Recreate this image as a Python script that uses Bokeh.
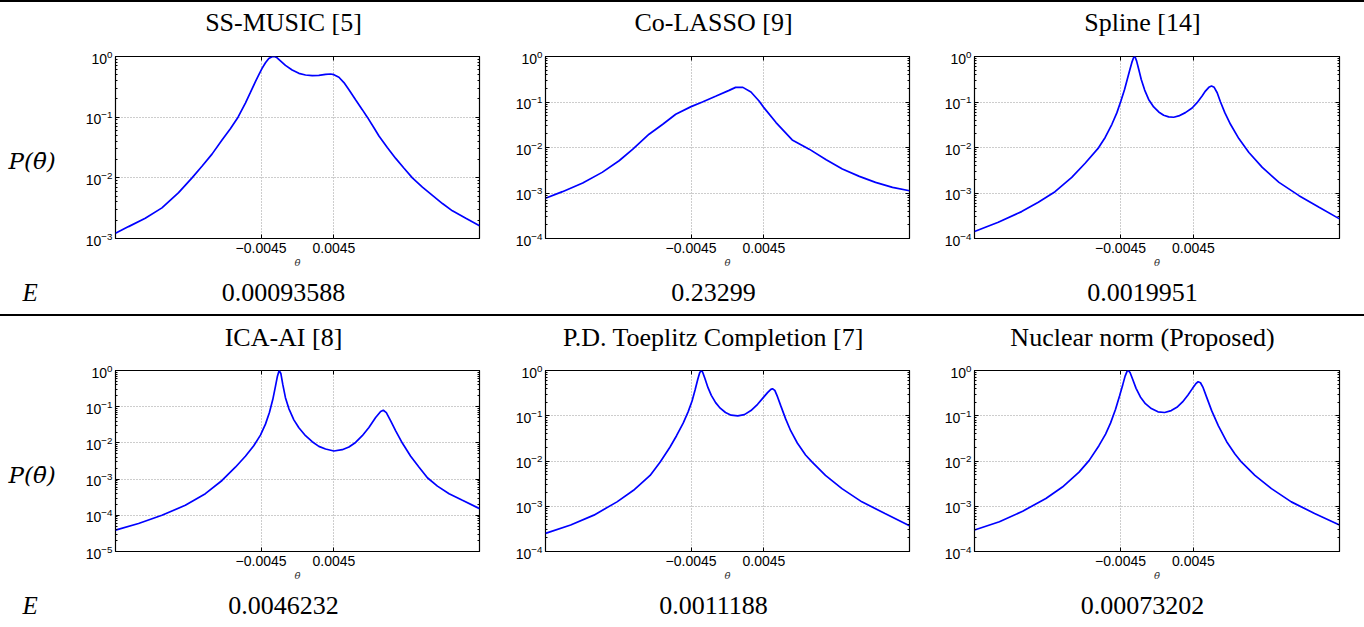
from bokeh.plotting import figure
from bokeh.models import (Range1d, FixedTicker, LogTicker, LogAxis, LinearAxis,
                          Label, Div)
from bokeh.layouts import column, row
from bokeh.embed import file_html
from bokeh.resources import INLINE

# ---------------- data ----------------
titles = ["SS-MUSIC [5]", "Co-LASSO [9]", "Spline [14]",
          "ICA-AI [8]", "P.D. Toeplitz Completion [7]", "Nuclear norm (Proposed)"]
errors = ["0.00093588", "0.23299", "0.0019951",
          "0.0046232", "0.0011188", "0.00073202"]
y_lows = [1e-3, 1e-4, 1e-4, 1e-5, 1e-4, 1e-4]
x_ticks = [-0.0045, 0.0045]
x_tick_labels = ["\u22120.0045", "0.0045"]
theta_lim = [-0.0225, 0.0225]
row_label = "P(\u03b8\u0304)"
err_label = "E"
x_label = "\u03b8\u0304"

ss_music_theta = [-0.0225, -0.02089, -0.01882, -0.01676, -0.0147, -0.01304, -0.01181, -0.01057,
                  -0.00933, -0.0083, -0.00735, -0.00644, -0.00582, -0.0052, -0.00479, -0.00438,
                  -0.00396, -0.00355, -0.00314, -0.00285, -0.00252, -0.00211, -0.00149, -0.00066,
                  0.00017, 0.00099, 0.00182, 0.00264, 0.00347, 0.00409, 0.0045, 0.00512,
                  0.00574, 0.00636, 0.00718, 0.00801, 0.00863, 0.00945, 0.01007, 0.0111,
                  0.01214, 0.01317, 0.0142, 0.01544, 0.01668, 0.01792, 0.01915, 0.02081, 0.0225]
ss_music_p = [0.00122, 0.00157, 0.00215, 0.0032, 0.00569, 0.01, 0.0155, 0.0246,
              0.0422, 0.0645, 0.1, 0.171, 0.256, 0.386, 0.496, 0.637,
              0.789, 0.927, 0.99, 1.0, 0.951, 0.85, 0.713, 0.598,
              0.528, 0.496, 0.484, 0.49, 0.509, 0.515, 0.502, 0.455,
              0.372, 0.283, 0.194, 0.133, 0.1, 0.067, 0.049, 0.0316,
              0.0209, 0.0144, 0.01, 0.00705, 0.00515, 0.00377, 0.00286, 0.00215, 0.00163]

co_lasso_theta = [-0.0225, -0.0204, -0.0179, -0.0155, -0.0134, -0.0117, -0.0097, -0.0080,
                  -0.0064, -0.0045, -0.0031, -0.0014, 0.0002, 0.0010, 0.0019, 0.0029,
                  0.0039, 0.0045, 0.0060, 0.0080, 0.0101, 0.0122, 0.0142, 0.0163,
                  0.0183, 0.0204, 0.0225]
co_lasso_p = [7.64e-4, 1.07e-3, 1.66e-3, 2.84e-3, 5.11e-3, 9.2e-3, 0.0196, 0.0324,
              0.0537, 0.0791, 0.100, 0.135, 0.180, 0.2095, 0.2095, 0.1656,
              0.105, 0.0752, 0.0353, 0.0147, 0.0092, 0.0054, 0.00336, 0.00232,
              0.00171, 0.00133, 0.00112]

spline_theta = [-0.0225, -0.01957, -0.01669, -0.01463, -0.01257, -0.01051, -0.00886, -0.00721,
                -0.00639, -0.00556, -0.00494, -0.00445, -0.004, -0.00367, -0.00334, -0.00309,
                -0.00288, -0.00272, -0.00251, -0.00227, -0.00194, -0.00152, -0.00103, -0.00041,
                0.00021, 0.00082, 0.00144, 0.00206, 0.00268, 0.0035, 0.00433, 0.00494,
                0.00556, 0.00597, 0.00639, 0.00672, 0.00705, 0.00742, 0.00783, 0.00836,
                0.00906, 0.01009, 0.01133, 0.01298, 0.01504, 0.01751, 0.01998, 0.0225]
spline_p = [1.42e-4, 2.28e-4, 3.9e-4, 6.25e-4, 1.07e-3, 2.2e-3, 4.5e-3, 9.84e-3,
            0.0166, 0.0324, 0.0584, 0.105, 0.189, 0.313, 0.519, 0.751,
            0.95, 1.0, 0.79, 0.537, 0.313, 0.183, 0.114, 0.0778,
            0.0604, 0.0511, 0.047, 0.0462, 0.0494, 0.0584, 0.0739, 0.0967,
            0.135, 0.174, 0.21, 0.224, 0.21, 0.16, 0.1, 0.0584,
            0.0324, 0.0157, 7.78e-3, 3.65e-3, 1.71e-3, 8.74e-4, 4.86e-4, 2.7e-4]

ica_ai_theta = [-0.0225, -0.01965, -0.01676, -0.01387, -0.01139, -0.00933, -0.00768, -0.00644,
                -0.00541, -0.00458, -0.00396, -0.00347, -0.00305, -0.00272, -0.00248, -0.00227,
                -0.00206, -0.00182, -0.00149, -0.00107, -0.00045, 0.00017, 0.00099, 0.00182,
                0.00264, 0.00347, 0.0045, 0.00553, 0.00636, 0.00718, 0.00801, 0.00883,
                0.00966, 0.01028, 0.01061, 0.01098, 0.01152, 0.01214, 0.01296, 0.01399,
                0.01503, 0.01606, 0.0173, 0.01874, 0.02039, 0.0225]
ica_ai_p = [3.89e-5, 5.93e-5, 1.0e-4, 1.89e-4, 3.95e-4, 9.17e-4, 2.13e-3, 4.27e-3,
            8.38e-3, 0.0164, 0.033, 0.0689, 0.16, 0.372, 0.699, 1.0,
            0.828, 0.413, 0.178, 0.0887, 0.0433, 0.0261, 0.0158, 0.0108,
            8.03e-3, 6.79e-3, 5.98e-3, 6.5e-3, 7.7e-3, 0.0103, 0.0158, 0.0267,
            0.0502, 0.0734, 0.0798, 0.0689, 0.0407, 0.0216, 9.91e-3, 4.27e-3,
            2.13e-3, 1.09e-3, 6.41e-4, 3.95e-4, 2.59e-4, 1.53e-4]

toeplitz_theta = [-0.0225, -0.01939, -0.01652, -0.01366, -0.01162, -0.00957, -0.00834, -0.00712,
                  -0.0063, -0.00548, -0.00487, -0.00438, -0.00401, -0.00368, -0.00344, -0.00327,
                  -0.00307, -0.00278, -0.00241, -0.002, -0.00147, -0.0009, -0.00025, 0.00045,
                  0.00127, 0.00209, 0.0029, 0.00372, 0.00442, 0.00495, 0.00536, 0.00556,
                  0.00585, 0.00618, 0.00659, 0.0072, 0.00781, 0.00863, 0.00965, 0.01047,
                  0.01211, 0.01415, 0.01661, 0.01947, 0.0225]
toeplitz_p = [2.52e-4, 3.84e-4, 6.36e-4, 1.25e-3, 2.25e-3, 4.8e-3, 9.41e-3, 0.0201,
              0.0362, 0.0687, 0.122, 0.212, 0.37, 0.634, 0.889, 1.0,
              0.919, 0.656, 0.417, 0.283, 0.195, 0.147, 0.118, 0.103,
              0.0995, 0.106, 0.13, 0.179, 0.251, 0.324, 0.383, 0.396,
              0.364, 0.264, 0.165, 0.0841, 0.0467, 0.025, 0.0136, 9.41e-3,
              4.8e-3, 2.45e-3, 1.25e-3, 6.92e-4, 3.71e-4]

nuclear_theta = [-0.0225, -0.01943, -0.01656, -0.0137, -0.01166, -0.00961, -0.00838, -0.00716,
                 -0.00634, -0.00573, -0.00511, -0.00462, -0.00421, -0.00393, -0.00368, -0.00352,
                 -0.00331, -0.00299, -0.00258, -0.00205, -0.00143, -0.0007, 0.00012, 0.00094,
                 0.00176, 0.00245, 0.00315, 0.0038, 0.00438, 0.00479, 0.00507, 0.00536,
                 0.00569, 0.00614, 0.00675, 0.00757, 0.00859, 0.00961, 0.01043, 0.01207,
                 0.01411, 0.01656, 0.01943, 0.0225]
nuclear_p = [2.98e-4, 4.54e-4, 7.78e-4, 1.48e-3, 2.66e-3, 5.68e-3, 0.0102, 0.0218,
             0.0394, 0.0687, 0.139, 0.273, 0.493, 0.751, 0.966, 1.0,
             0.889, 0.634, 0.403, 0.26, 0.185, 0.144, 0.122, 0.118,
             0.13, 0.154, 0.202, 0.283, 0.403, 0.51, 0.564, 0.536,
             0.417, 0.251, 0.128, 0.06, 0.0267, 0.0143, 9.41e-3, 4.8e-3,
             2.45e-3, 1.25e-3, 6.92e-4, 3.84e-4]

series = [(ss_music_theta, ss_music_p), (co_lasso_theta, co_lasso_p), (spline_theta, spline_p),
          (ica_ai_theta, ica_ai_p), (toeplitz_theta, toeplitz_p), (nuclear_theta, nuclear_p)]

# ---------------- layout (pixels) ----------------
PAGE_W = 1364
LABEL_W = 70
col_w = [415, 430, 449]
col_left = [45, 60, 59]
col_right = [6, 6, 25]
col_center = [283, 713, 1142]

title_h = [38, 36]
title_y = [18, 15]
panel_h = [238, 240]
panel_top = [16, 18]
frame_h = [182, 181]
err_h = [36, 35]
err_y = [22, 22]
plabel_y = [78, 77]   # measured from the bottom of the (row-aligned) frame

SERIF = "Liberation Serif"
MATH = "DejaVu Serif"
SANS = "Liberation Sans"


def blank(w, h):
    s = figure(width=w, height=h, x_range=Range1d(0, w), y_range=Range1d(0, h),
               output_backend="svg", toolbar_location=None, title_location=None,
               x_axis_location=None, y_axis_location=None,
               min_border_left=0, min_border_right=0, min_border_top=0, min_border_bottom=0)
    s.margin = 0
    s.outline_line_color = None
    s.background_fill_color = "white"
    s.border_fill_color = "white"
    for g in s.grid:
        g.visible = False
    return s


def make_panel(k):
    r, c = divmod(k, 3)
    theta, power = series[k]
    fh = frame_h[r]
    p = figure(width=col_w[c], height=panel_h[r], y_axis_type="log",
               x_range=Range1d(theta_lim[0], theta_lim[1]),
               y_range=Range1d(y_lows[k], 1.0),
               output_backend="svg", toolbar_location=None, title_location=None,
               min_border_left=col_left[c], min_border_right=col_right[c],
               min_border_top=panel_top[r],
               min_border_bottom=panel_h[r] - panel_top[r] - fh)
    p.margin = 0
    p.background_fill_color = "white"
    p.border_fill_color = "white"
    p.outline_line_color = "black"
    p.outline_line_width = 1.2

    p.line(theta, power, line_color="#0000ff", line_width=1.7)

    xa = p.xaxis[0]
    xa.ticker = FixedTicker(ticks=x_ticks)
    xa.major_label_overrides = {x_ticks[0]: x_tick_labels[0], x_ticks[1]: x_tick_labels[1]}
    xa.axis_label = x_label
    xa.axis_label_text_font = MATH
    xa.axis_label_text_font_style = "italic"
    xa.axis_label_text_font_size = "10px"
    xa.axis_label_text_color = "#333333"
    xa.axis_label_standoff = 1
    xa.major_label_text_font = SANS
    xa.major_label_text_font_size = "14px"
    xa.major_label_text_color = "black"
    xa.major_label_standoff = 4
    xa.major_tick_in = 4
    xa.major_tick_out = 0
    xa.minor_tick_in = 0
    xa.minor_tick_out = 0
    xa.axis_line_color = None

    ya = p.yaxis[0]
    ya.ticker = LogTicker(num_minor_ticks=10)
    ya.major_label_text_font = SANS
    ya.major_label_text_font_size = "14px"
    ya.major_label_text_color = "black"
    ya.major_label_standoff = 3
    ya.major_tick_in = 4
    ya.major_tick_out = 0
    ya.minor_tick_in = 2
    ya.minor_tick_out = 0
    ya.axis_line_color = None

    ra = LogAxis(ticker=LogTicker(num_minor_ticks=10), major_label_text_font_size="1px",
                 major_label_text_color=None,
                 major_label_standoff=0, major_tick_in=4, major_tick_out=0,
                 minor_tick_in=2, minor_tick_out=0, axis_line_color=None)
    p.add_layout(ra, "right")
    ta = LinearAxis(ticker=FixedTicker(ticks=x_ticks), major_label_text_font_size="1px",
                    major_label_text_color=None,
                    major_label_standoff=0, major_tick_in=4, major_tick_out=0,
                    minor_tick_in=0, minor_tick_out=0, axis_line_color=None)
    p.add_layout(ta, "above")

    p.xgrid.ticker = FixedTicker(ticks=x_ticks)
    for g in (p.xgrid[0], p.ygrid[0]):
        g.grid_line_color = "#9a9a9a"
        g.grid_line_dash = "1 2"
        g.grid_line_width = 1
    return p


blocks = []
for r in range(2):
    ts = blank(PAGE_W, title_h[r])
    for c in range(3):
        ts.add_layout(Label(x=col_center[c], y=title_y[r], x_units="screen", y_units="screen",
                            text=titles[3 * r + c], text_align="center",
                            text_baseline="middle", text_font=SERIF,
                            text_font_size="26px", text_color="black"))
    lf = blank(LABEL_W, panel_h[r])
    lf.add_layout(Label(x=8, y=plabel_y[r], x_units="screen", y_units="screen",
                        text=row_label, text_align="left", text_baseline="middle",
                        text_font=MATH, text_font_style="italic",
                        text_font_size="23px", text_color="black"))
    panels = [make_panel(3 * r + c) for c in range(3)]
    es = blank(PAGE_W, err_h[r])
    es.add_layout(Label(x=22, y=err_y[r], x_units="screen", y_units="screen",
                        text=err_label, text_align="left", text_baseline="middle",
                        text_font=SERIF, text_font_style="italic",
                        text_font_size="25px", text_color="black"))
    for c in range(3):
        es.add_layout(Label(x=col_center[c], y=err_y[r], x_units="screen", y_units="screen",
                            text=errors[3 * r + c], text_align="center",
                            text_baseline="middle", text_font=SERIF,
                            text_font_size="26px", text_color="black"))
    rule = Div(text="", width=PAGE_W, height=2, margin=0,
               styles={"background-color": "black"})
    blocks += [rule, ts, row(lf, *panels, spacing=0), es]

layout = column(*blocks, spacing=0)
open("out.html", "w").write(file_html(layout, INLINE))
